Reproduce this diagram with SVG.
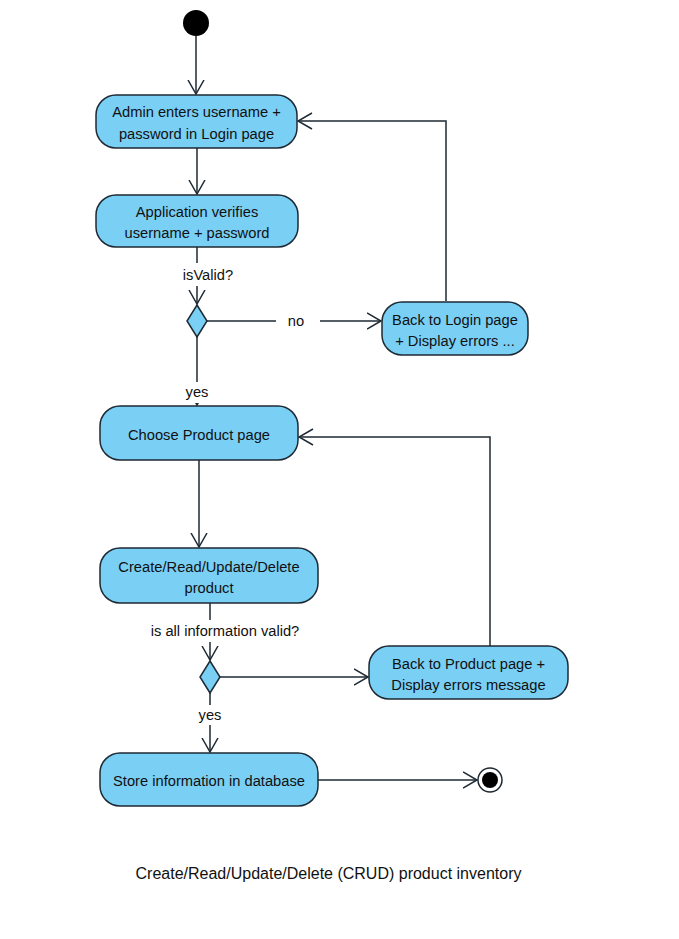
<svg xmlns="http://www.w3.org/2000/svg" width="679" height="939" viewBox="0 0 679 939">
  <style>
    .act { fill: #7acff5; stroke: #1e2a33; stroke-width: 1.5; }
    .dec { fill: #7acff5; stroke: #1e2a33; stroke-width: 1.5; }
    .edge { fill: none; stroke: #1e2a33; stroke-width: 1.5; }
    .lbl { font-family: "Liberation Sans", Arial, sans-serif; font-size: 14.7px; fill: #111; text-anchor: middle; }
    .caption { font-family: "Liberation Sans", Arial, sans-serif; font-size: 16px; fill: #111; text-anchor: middle; }
    .bg { fill: #ffffff; }
  </style>
  <defs>
    <marker id="open" viewBox="0 0 16 18" refX="14.5" refY="9" markerWidth="16" markerHeight="18" markerUnits="userSpaceOnUse" orient="auto">
      <path d="M0.5,1 L14.5,9 L0.5,17" fill="none" stroke="#1e2a33" stroke-width="1.5"/>
    </marker>
  </defs>

  <rect width="679" height="939" fill="#ffffff"/>

  <g id="connectors">
    <line class="edge" x1="196" y1="36" x2="196" y2="94" marker-end="url(#open)"/>
    <line class="edge" x1="197" y1="148" x2="197" y2="194" marker-end="url(#open)"/>
    <line class="edge" x1="197" y1="247" x2="197" y2="304" marker-end="url(#open)"/>
    <line class="edge" x1="207" y1="321" x2="381" y2="321" marker-end="url(#open)"/>
    <polyline class="edge" points="446,301 446,121 298,121" marker-end="url(#open)"/>
    <line class="edge" x1="197" y1="337" x2="197" y2="405" marker-end="url(#open)"/>
    <line class="edge" x1="199" y1="460" x2="199" y2="547" marker-end="url(#open)"/>
    <line class="edge" x1="210" y1="603" x2="210" y2="660" marker-end="url(#open)"/>
    <line class="edge" x1="220" y1="677" x2="368" y2="677" marker-end="url(#open)"/>
    <polyline class="edge" points="490,646 490,437 299,437" marker-end="url(#open)"/>
    <line class="edge" x1="210" y1="693" x2="210" y2="752" marker-end="url(#open)"/>
    <line class="edge" x1="318" y1="780" x2="477" y2="780" marker-end="url(#open)"/>
  </g>

  <g id="edge-labels">
    <rect class="bg" x="176" y="263" width="62" height="23"/>
    <text class="lbl" x="208" y="280">isValid?</text>
    <rect class="bg" x="276" y="311" width="44" height="20"/>
    <text class="lbl" x="296" y="326">no</text>
    <rect class="bg" x="181" y="382" width="32" height="21"/>
    <text class="lbl" x="197" y="397">yes</text>
    <rect class="bg" x="144" y="620" width="162" height="22"/>
    <text class="lbl" x="225" y="636">is all information valid?</text>
    <rect class="bg" x="194" y="705" width="32" height="20"/>
    <text class="lbl" x="210" y="720">yes</text>
  </g>

  <g id="start">
    <circle cx="196" cy="23" r="13" fill="#000"/>
  </g>

  <g id="login">
    <rect class="act" x="96" y="95" width="201" height="53" rx="20"/>
    <text class="lbl" x="196.5" y="117">Admin enters username +</text>
    <text class="lbl" x="196.5" y="139">password in Login page</text>
  </g>

  <g id="verify">
    <rect class="act" x="96" y="195" width="202" height="52" rx="20"/>
    <text class="lbl" x="197" y="217">Application verifies</text>
    <text class="lbl" x="197" y="238">username + password</text>
  </g>

  <g id="decision-valid">
    <polygon class="dec" points="197,305 207,321 197,337 187,321"/>
  </g>

  <g id="back-login">
    <rect class="act" x="382" y="302" width="146" height="53" rx="20"/>
    <text class="lbl" x="455" y="325">Back to Login page</text>
    <text class="lbl" x="455" y="346">+ Display errors ...</text>
  </g>

  <g id="choose-product">
    <rect class="act" x="100" y="406" width="198" height="54" rx="20"/>
    <text class="lbl" x="199" y="440">Choose Product page</text>
  </g>

  <g id="crud">
    <rect class="act" x="100" y="548" width="218" height="55" rx="20"/>
    <text class="lbl" x="209" y="572">Create/Read/Update/Delete</text>
    <text class="lbl" x="209" y="593">product</text>
  </g>

  <g id="decision-info">
    <polygon class="dec" points="210,661 220,677 210,693 200,677"/>
  </g>

  <g id="back-product">
    <rect class="act" x="369" y="646" width="199" height="53" rx="20"/>
    <text class="lbl" x="468.5" y="669">Back to Product page +</text>
    <text class="lbl" x="468.5" y="690">Display errors message</text>
  </g>

  <g id="store">
    <rect class="act" x="100" y="753" width="218" height="53" rx="20"/>
    <text class="lbl" x="209" y="786">Store information in database</text>
  </g>

  <g id="final">
    <circle cx="490" cy="780" r="12" fill="#fff" stroke="#1e2a33" stroke-width="1.5"/>
    <circle cx="490" cy="780" r="8" fill="#000"/>
  </g>

  <text class="caption" x="328.5" y="879">Create/Read/Update/Delete (CRUD) product inventory</text>
</svg>
